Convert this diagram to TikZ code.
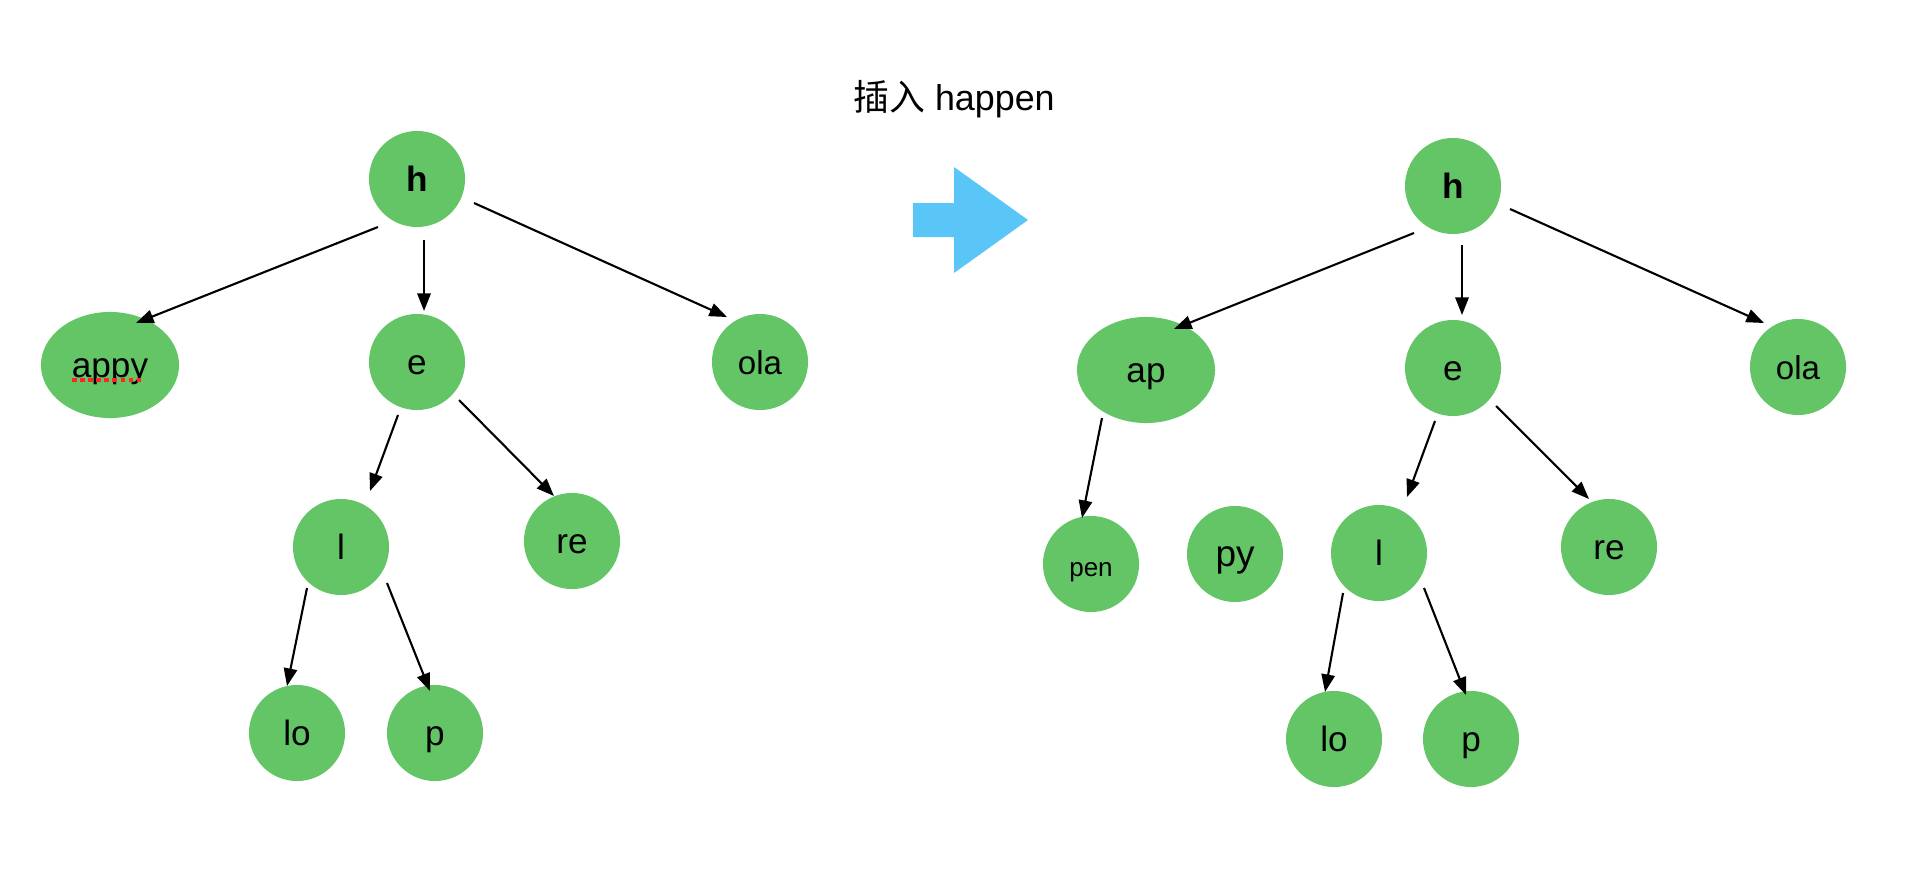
\documentclass[tikz,border=0pt]{standalone}
\usepackage{fontspec}
\setmainfont{Liberation Sans}
\newfontfamily\cjkfont{Noto Sans CJK SC}
\usetikzlibrary{arrows.meta}
\usetikzlibrary{calc}
\usetikzlibrary{shapes.geometric}
\definecolor{leafgreen}{HTML}{63C566}
\definecolor{skyblue}{HTML}{5AC5F7}

\begin{document}
\begin{tikzpicture}[x=0.01cm, y=-0.01cm,
    trienode/.style={circle, fill=leafgreen, minimum size=0.96cm, inner sep=0pt,
        text height=0.9em, text depth=0.21em, font=\fontsize{10}{12}\selectfont},
    wordnode/.style={ellipse, fill=leafgreen, minimum width=1.38cm, minimum height=1.06cm,
        inner sep=0pt, text height=0.9em, text depth=0.21em, font=\fontsize{10}{12}\selectfont},
    link/.style={-{Triangle[length=5pt,width=3.8pt]}, line width=0.6pt}]

            \useasboundingbox (0,0) rectangle (1910,882);

            % Title
            \node[font=\fontsize{10.2}{12}\selectfont] (title) at (954,99) {{\cjkfont 插入} happen};

            % Trie before
            \node[trienode, font=\fontsize{10}{12}\selectfont\bfseries] (hL) at (417,179) {h};
            \node[wordnode] (appy) at (110,365) {appy};
            \node[trienode] (eL) at (417,362) {e};
            \node[trienode, font=\fontsize{9.4}{11}\selectfont] (olaL) at (760,362) {ola};
            \node[trienode] (lL) at (341,547) {l};
            \node[trienode] (reL) at (572,541) {re};
            \node[trienode] (loL) at (297,733) {lo};
            \node[trienode] (pL) at (435,733) {p};
            \draw[red!85, line width=1pt, dash pattern=on 1.3pt off 1pt] ($(appy)+(-38,15)$) -- ($(appy)+(33,15)$);

            \draw[link] ($(hL)+(-39,48)$) -- ($(appy)+(26,-42)$);
            \draw[link] ($(hL)+(7,61)$) -- ($(eL)+(7,-51)$);
            \draw[link] ($(hL)+(57,24)$) -- ($(olaL)+(-33,-45)$);
            \draw[link] ($(eL)+(-19,53)$) -- ($(lL)+(29,-56)$);
            \draw[link] ($(eL)+(42,38)$) -- ($(reL)+(-18,-45)$);
            \draw[link] ($(lL)+(-34,41)$) -- ($(loL)+(-10,-47)$);
            \draw[link] ($(lL)+(46,36)$) -- ($(pL)+(-5,-42)$);

            % Big arrow
            \fill[skyblue] (913,203) -- (954,203) -- (954,167) -- (1028,220) -- (954,273) -- (954,237) -- (913,237) -- cycle;

            % Trie after
            \node[trienode, font=\fontsize{10}{12}\selectfont\bfseries] (hR) at (1453,186) {h};
            \node[wordnode] (ap) at (1146,370) {ap};
            \node[trienode] (eR) at (1453,368) {e};
            \node[trienode, font=\fontsize{9.4}{11}\selectfont] (olaR) at (1798,367) {ola};
            \node[trienode, font=\fontsize{7.4}{9}\selectfont] (pen) at (1091,564) {pen};
            \node[trienode, font=\fontsize{10.5}{12}\selectfont] (py) at (1235,554) {py};
            \node[trienode] (lR) at (1379,553) {l};
            \node[trienode] (reR) at (1609,547) {re};
            \node[trienode] (loR) at (1334,739) {lo};
            \node[trienode] (pR) at (1471,739) {p};

            \draw[link] ($(hR)+(-39,47)$) -- ($(ap)+(28,-41)$);
            \draw[link] ($(hR)+(9,59)$) -- ($(eR)+(9,-53)$);
            \draw[link] ($(hR)+(57,23)$) -- ($(olaR)+(-34,-44)$);
            \draw[link] ($(ap)+(-44,48)$) -- ($(pen)+(-9,-46)$);
            \draw[link] ($(eR)+(-18,53)$) -- ($(lR)+(28,-56)$);
            \draw[link] ($(eR)+(43,38)$) -- ($(reR)+(-20,-48)$);
            \draw[link] ($(lR)+(-36,40)$) -- ($(loR)+(-9,-47)$);
            \draw[link] ($(lR)+(45,35)$) -- ($(pR)+(-5,-44)$);
        \end{tikzpicture}
\end{document}
